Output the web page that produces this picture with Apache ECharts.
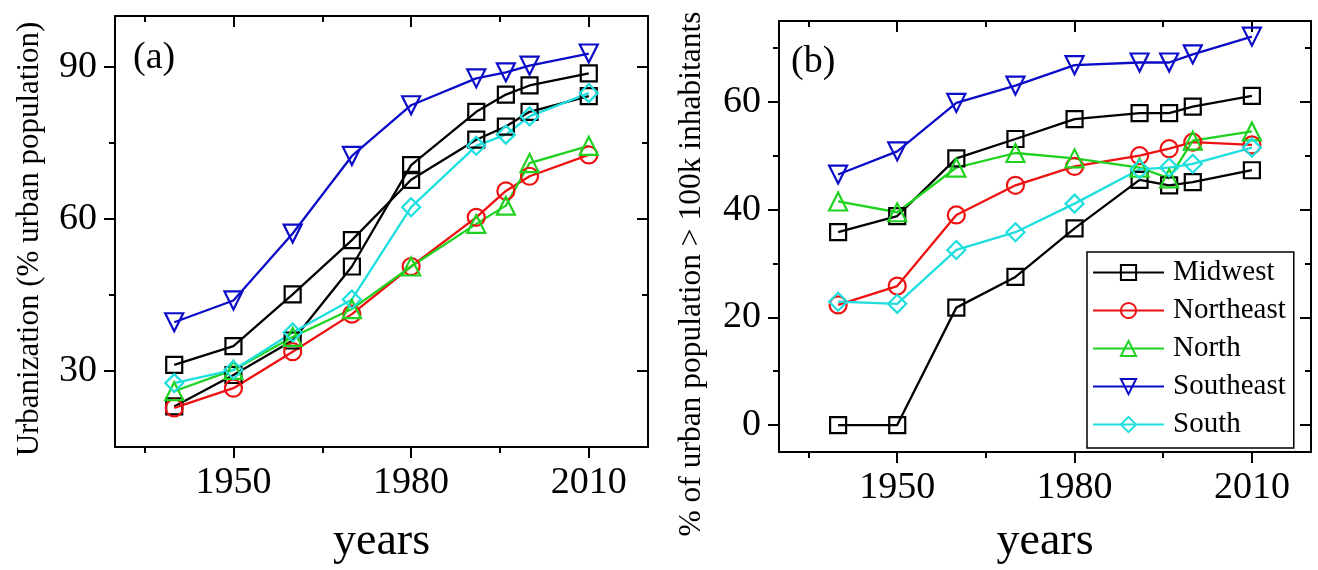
<!DOCTYPE html>
<html>
<head>
<meta charset="utf-8">
<script src="https://cdn.jsdelivr.net/npm/echarts@6/dist/echarts.min.js"></script>
<style>
  html, body { margin: 0; padding: 0; background: #fff; }
  #chart { width: 1318px; height: 570px; }
</style>
</head>
<body>
<div id="chart"></div>
<script>
// census years (Brazil)
const years = [1940, 1950, 1960, 1970, 1980, 1991, 1996, 2000, 2010];

// (a) urbanization, % urban population
const urbMidwest   = [23, 29.2, 36, 50.6, 70.6, 81.1, 84.5, 86.3, 88.7];
const urbBrazil    = [31.2, 34.9, 45.1, 55.8, 67.7, 75.6, 78.2, 81.1, 84.2];
const urbNortheast = [22.7, 26.6, 33.8, 41.2, 50.6, 60.3, 65.5, 68.4, 72.6];
const urbNorth     = [26, 30.2, 36.7, 42.2, 50.6, 59, 62.6, 71, 74.4];
const urbSoutheast = [39.6, 43.9, 57.1, 72.4, 82.4, 87.7, 88.9, 90.2, 92.6];
const urbSouth     = [27.6, 30.2, 37.6, 44.1, 62.3, 74.4, 76.6, 80.2, 84.8];

// (b) % of urban population in cities > 100k inhabitants
const bigMidwest   = [0, 0, 21.8, 27.5, 36.5, 45.5, 44.5, 45.1, 47.3];
const bigBrazil    = [35.8, 38.8, 49.5, 53.1, 56.8, 57.9, 57.9, 59.1, 61.1];
const bigNortheast = [22.3, 25.8, 39, 44.5, 48, 50, 51.3, 52.5, 52];
const bigNorth     = [41.5, 39.5, 47.8, 50.5, 49.5, 47.8, 45.8, 52.8, 54.5];
const bigSoutheast = [46.5, 50.8, 59.8, 63, 66.8, 67.3, 67.3, 68.8, 72.1];
const bigSouth     = [22.9, 22.5, 32.5, 35.8, 41.1, 47.5, 47.8, 48.5, 51.5];

const xMajor = [1950, 1980, 2010];
const xMinor = [1935, 1965, 1995];
const yMajorA = [30, 60, 90];
const yMinorA = [45, 75];
const yMajorB = [0, 20, 40, 60];
const yMinorB = [10, 30, 50, 70];

const legendNames = ['Midwest', 'Northeast', 'North', 'Southeast', 'South'];

const FONT = 'Liberation Serif, Times New Roman, serif';

function pairs(vals) {
    return years.map(function (y, i) { return [y, vals[i]]; });
}

// four axes per direction: main (labels, outward ticks), its minor ticks,
// and the mirrored opposite side with inward ticks
function axesFor(dir, grid, min, max, major, minor, name, nameGap) {
    const main = dir === 'x' ? 'bottom' : 'left';
    const opp = dir === 'x' ? 'top' : 'right';
    const base = { type: 'value', gridIndex: grid, min: min, max: max, splitLine: { show: false } };
    const line = { show: true, onZero: false, lineStyle: { color: '#000', width: 2 } };
    const noLine = { show: false, onZero: false };
    const mainAxis = Object.assign({}, base, {
        position: main,
        axisLine: line,
        axisTick: { show: true, inside: false, length: 11, customValues: major, lineStyle: { color: '#000', width: 2 } },
        axisLabel: {
            show: true, customValues: major, color: '#000', fontFamily: FONT, fontSize: 38,
            margin: dir === 'x' ? 17 : 18,
            formatter: function (v) { return String(v); }
        }
    });
    if (name) {
        mainAxis.name = name;
        mainAxis.nameLocation = 'middle';
        mainAxis.nameGap = nameGap;
        mainAxis.nameTextStyle = { color: '#000', fontFamily: FONT, fontSize: 46 };
    }
    return [
        mainAxis,
        Object.assign({}, base, {
            position: main,
            axisLine: noLine,
            axisTick: { show: true, inside: false, length: 6, customValues: minor, lineStyle: { color: '#000', width: 2 } },
            axisLabel: { show: false }
        }),
        Object.assign({}, base, {
            position: opp,
            axisLine: line,
            axisTick: { show: true, inside: true, length: 11, customValues: major, lineStyle: { color: '#000', width: 2 } },
            axisLabel: { show: false }
        }),
        Object.assign({}, base, {
            position: opp,
            axisLine: noLine,
            axisTick: { show: true, inside: true, length: 6, customValues: minor, lineStyle: { color: '#000', width: 2 } },
            axisLabel: { show: false }
        })
    ];
}

const styles = {
    Midwest:   { color: '#000000', symbol: 'rect', size: 16, rotate: 0 },
    Brazil:    { color: '#000000', symbol: 'rect', size: 16, rotate: 0 },
    Northeast: { color: '#ee1111', symbol: 'circle', size: 17, rotate: 0 },
    North:     { color: '#1fd21f', symbol: 'triangle', size: 18, rotate: 0 },
    Southeast: { color: '#0c0cc8', symbol: 'triangle', size: 18, rotate: 180 },
    South:     { color: '#1fdede', symbol: 'diamond', size: 18, rotate: 0 }
};

function makeSeries(name, vals, axisIndex) {
    const s = styles[name];
    return {
        name: name,
        type: 'line',
        xAxisIndex: axisIndex,
        yAxisIndex: axisIndex,
        data: pairs(vals),
        symbol: s.symbol,
        symbolSize: s.size,
        symbolRotate: s.rotate,
        showAllSymbol: true,
        lineStyle: { color: s.color, width: 2.3 },
        itemStyle: { color: 'rgba(255,255,255,0)', borderColor: s.color, borderWidth: 2.2 },
        emphasis: { disabled: true }
    };
}

const chart = echarts.init(document.getElementById('chart'));

const option = {
    animation: false,
    backgroundColor: '#fff',
    title: [
        { text: '(a)', left: 128, top: 34, textStyle: { fontFamily: FONT, fontSize: 38, fontWeight: 'normal', color: '#000' } },
        { text: '(b)', left: 786, top: 38, textStyle: { fontFamily: FONT, fontSize: 38, fontWeight: 'normal', color: '#000' } }
    ],
    graphic: [
        {
            type: 'text', x: 30, y: 239, rotation: Math.PI / 2,
            style: { text: 'Urbanization (% urban population)', font: '31px ' + FONT, fill: '#000', align: 'center', verticalAlign: 'middle' }
        },
        {
            type: 'text', x: 692, y: 274, rotation: Math.PI / 2,
            style: { text: '% of urban population > 100k inhabitants', font: '31.5px ' + FONT, fill: '#000', align: 'center', verticalAlign: 'middle' }
        }
    ],
    legend: {
        data: legendNames,
        orient: 'vertical',
        left: 1087,
        top: 252,
        padding: [6, 8, 9, 5],
        itemGap: 9,
        itemWidth: 71,
        itemHeight: 19,
        borderColor: '#000',
        borderWidth: 1.5,
        backgroundColor: '#fff',
        textStyle: { fontFamily: FONT, fontSize: 29, color: '#000', padding: [0, 0, 0, 4] }
    },
    grid: [
        { left: 115, top: 16, width: 533, height: 436 },
        { left: 779, top: 21, width: 532, height: 439 }
    ],
    xAxis: [].concat(
        axesFor('x', 0, 1930, 2020, xMajor, xMinor, 'years', 72),
        axesFor('x', 1, 1930, 2020, xMajor, xMinor, 'years', 67)
    ),
    yAxis: [].concat(
        axesFor('y', 0, 15, 100, yMajorA, yMinorA, null, 0),
        axesFor('y', 1, -5, 75, yMajorB, yMinorB, null, 0)
    ),
    series: [
        makeSeries('Brazil', urbBrazil, 0),
        makeSeries('Midwest', urbMidwest, 0),
        makeSeries('Northeast', urbNortheast, 0),
        makeSeries('North', urbNorth, 0),
        makeSeries('Southeast', urbSoutheast, 0),
        makeSeries('South', urbSouth, 0),
        makeSeries('Brazil', bigBrazil, 4),
        makeSeries('Midwest', bigMidwest, 4),
        makeSeries('Northeast', bigNortheast, 4),
        makeSeries('North', bigNorth, 4),
        makeSeries('Southeast', bigSoutheast, 4),
        makeSeries('South', bigSouth, 4)
    ]
};

chart.setOption(option);
</script>
</body>
</html>
